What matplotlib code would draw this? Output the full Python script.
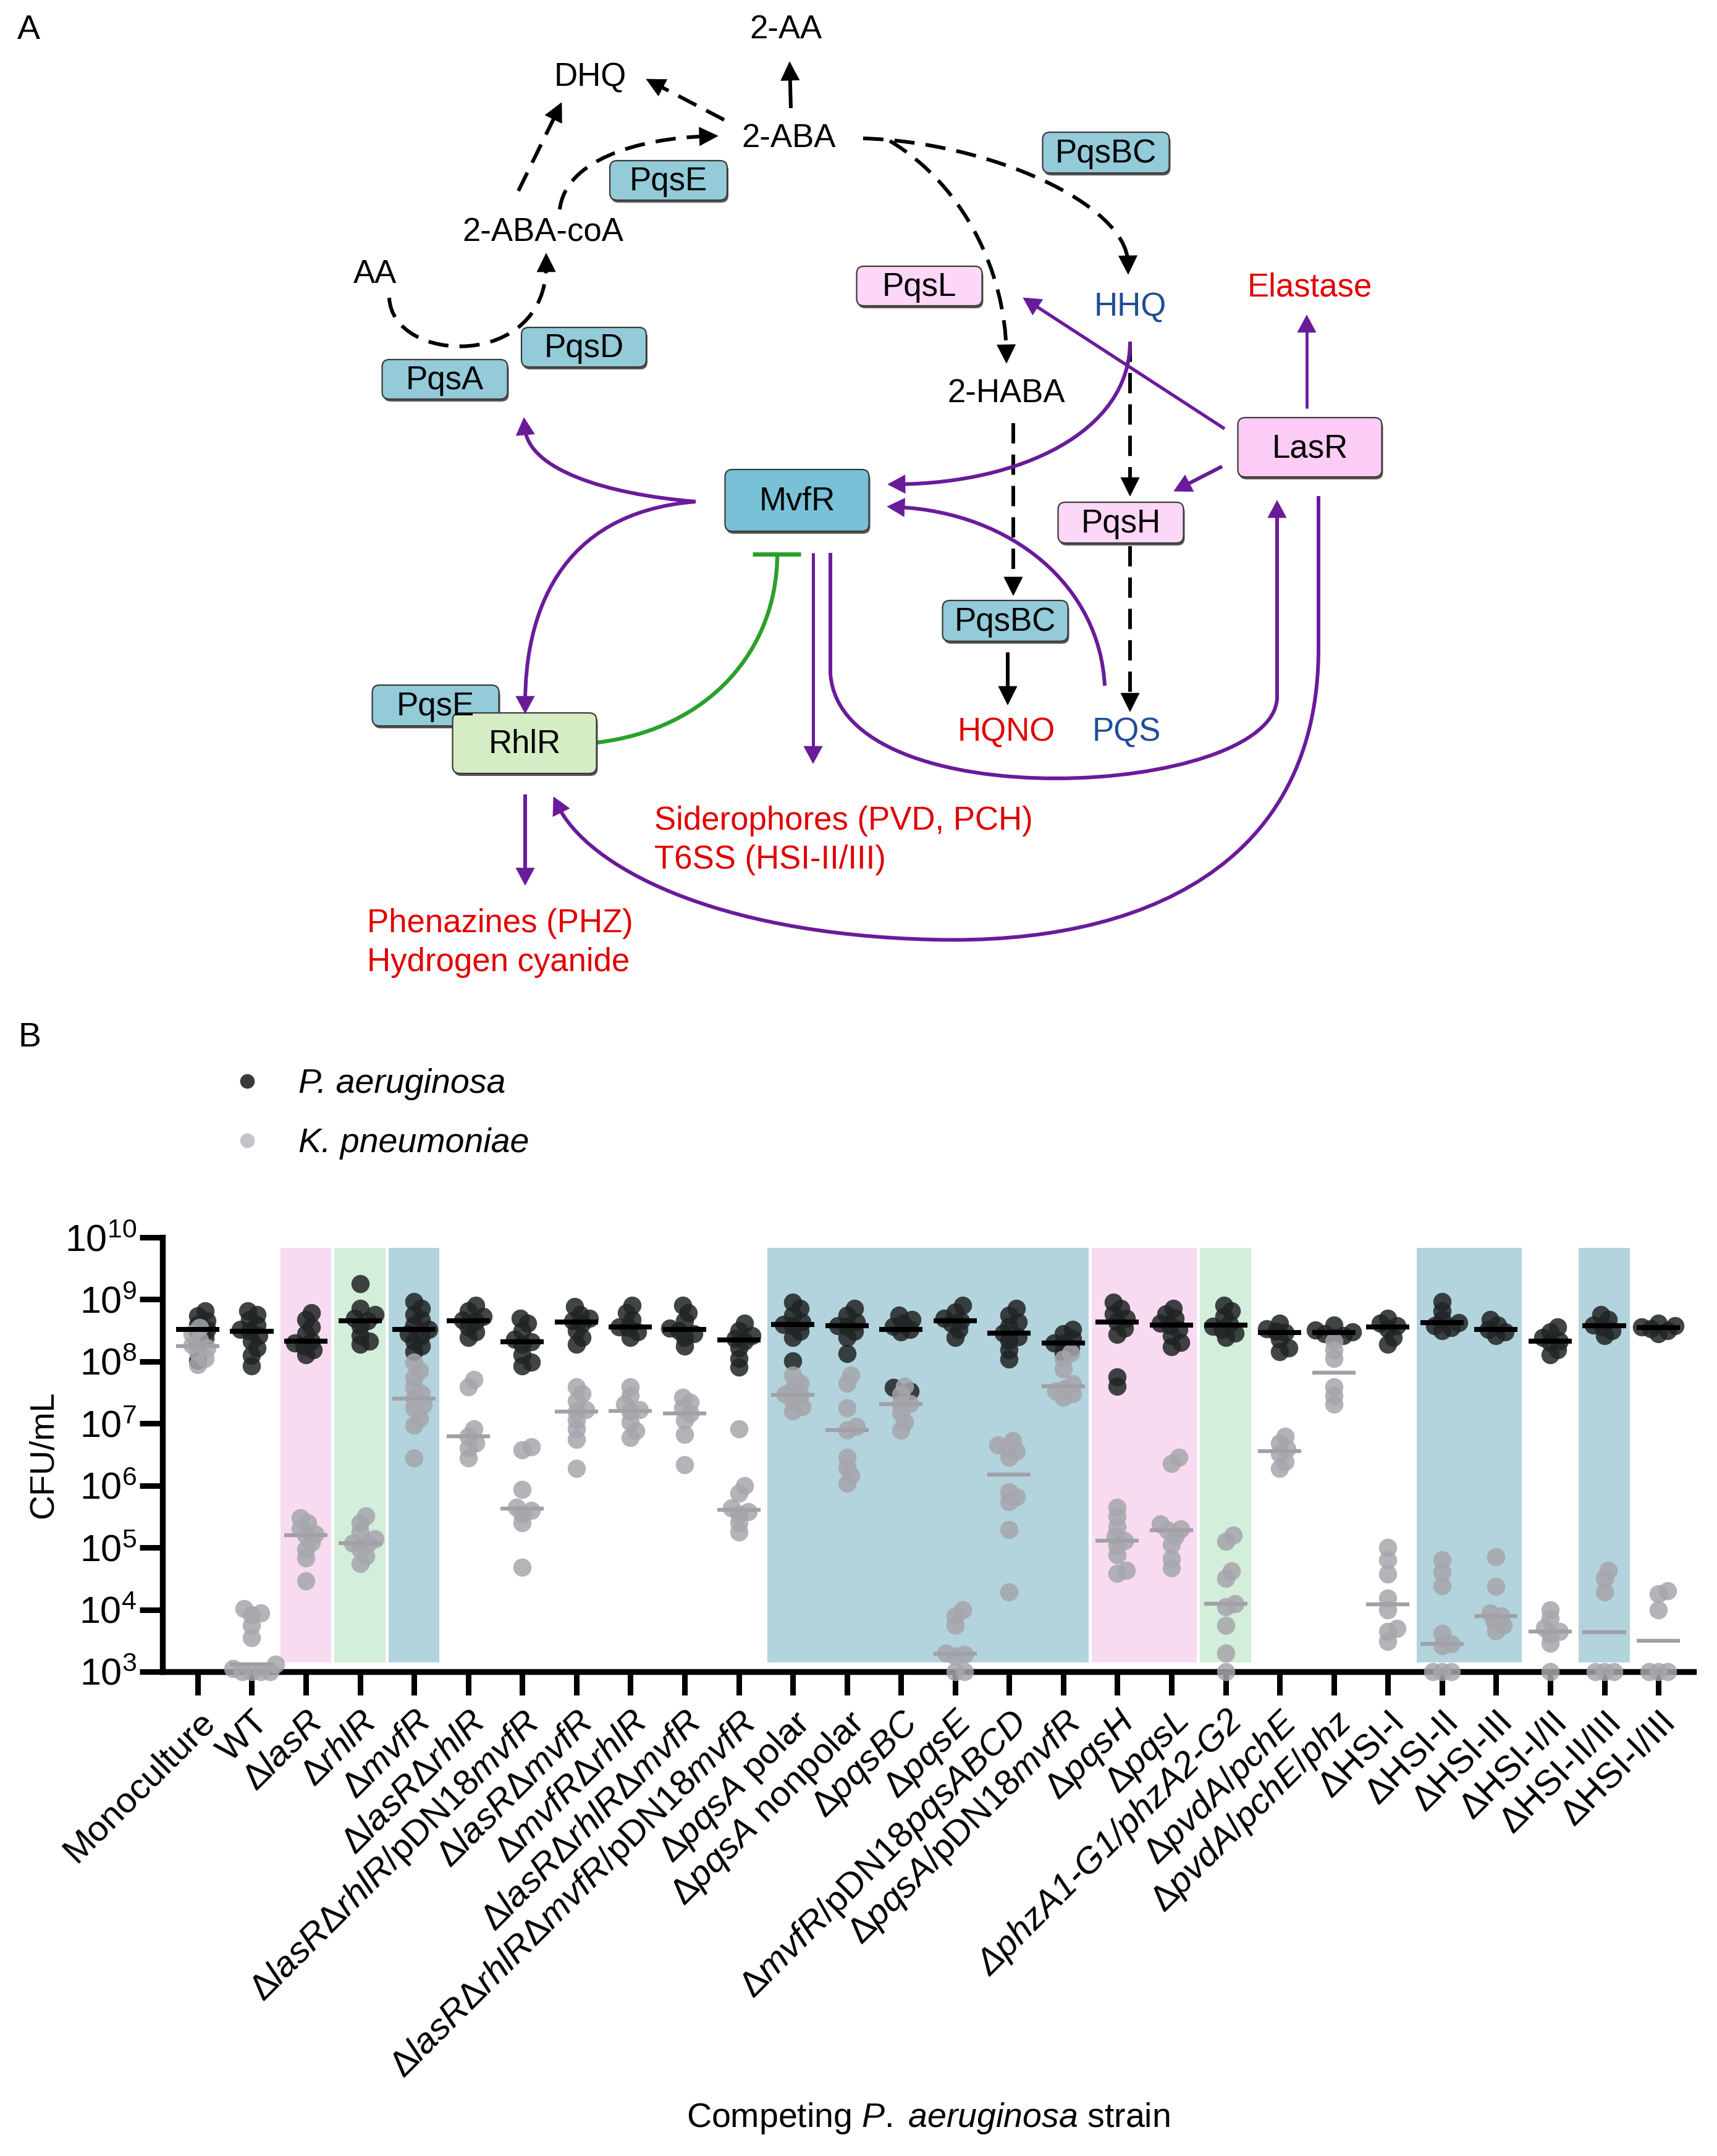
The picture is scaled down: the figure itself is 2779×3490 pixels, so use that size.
import numpy as np
import matplotlib.pyplot as plt
from matplotlib.patches import FancyBboxPatch, PathPatch, Polygon
from matplotlib.path import Path
from matplotlib.lines import Line2D

plt.rcParams['font.family'] = ['Liberation Sans', 'DejaVu Sans']
plt.rcParams['mathtext.fontset'] = 'custom'
plt.rcParams['mathtext.rm'] = 'Liberation Sans'
plt.rcParams['mathtext.it'] = 'Liberation Sans:italic'
plt.rcParams['mathtext.bf'] = 'Liberation Sans:bold'

# ---- panel B data (log10 CFU/mL) ----
strain_labels = [
    'Monoculture', 'WT',
    r'$\Delta\mathit{lasR}$', r'$\Delta\mathit{rhlR}$', r'$\Delta\mathit{mvfR}$',
    r'$\Delta\mathit{lasR}\Delta\mathit{rhlR}$',
    r'$\Delta\mathit{lasR}\Delta\mathit{rhlR}/\mathrm{pDN18}\mathit{mvfR}$',
    r'$\Delta\mathit{lasR}\Delta\mathit{mvfR}$',
    r'$\Delta\mathit{mvfR}\Delta\mathit{rhlR}$',
    r'$\Delta\mathit{lasR}\Delta\mathit{rhlR}\Delta\mathit{mvfR}$',
    r'$\Delta\mathit{lasR}\Delta\mathit{rhlR}\Delta\mathit{mvfR}/\mathrm{pDN18}\mathit{mvfR}$',
    r'$\Delta\mathit{pqsA}$ polar',
    r'$\Delta\mathit{pqsA}$ nonpolar',
    r'$\Delta\mathit{pqsBC}$', r'$\Delta\mathit{pqsE}$',
    r'$\Delta\mathit{mvfR}/\mathrm{pDN18}\mathit{pqsABCD}$',
    r'$\Delta\mathit{pqsA}/\mathrm{pDN18}\mathit{mvfR}$',
    r'$\Delta\mathit{pqsH}$', r'$\Delta\mathit{pqsL}$',
    'ΔphzA1-G1/phzA2-G2',
    r'$\Delta\mathit{pvdA/pchE}$', r'$\Delta\mathit{pvdA/pchE/phz}$',
    'ΔHSI-I', 'ΔHSI-II', 'ΔHSI-III', 'ΔHSI-I/II', 'ΔHSI-II/III', 'ΔHSI-I/III',
]
italic_plain_labels = [19]

pa_log10 = [
    [8.82, 8.74, 8.66, 8.6, 8.52, 8.46, 8.38, 8.3, 8.02],
    [8.82, 8.76, 8.68, 8.59, 8.52, 8.49, 8.42, 8.33, 8.22, 8.1, 7.93],
    [8.79, 8.68, 8.56, 8.45, 8.33, 8.3, 8.25, 8.19, 8.11],
    [9.25, 8.85, 8.76, 8.7, 8.66, 8.58, 8.42, 8.33, 8.28],
    [8.96, 8.85, 8.76, 8.68, 8.59, 8.52, 8.45, 8.42, 8.33, 8.25, 8.16],
    [8.9, 8.82, 8.73, 8.67, 8.65, 8.56, 8.48, 8.39],
    [8.7, 8.62, 8.5, 8.36, 8.32, 8.28, 8.11, 7.99, 7.93],
    [8.88, 8.76, 8.7, 8.66, 8.62, 8.5, 8.39, 8.28],
    [8.9, 8.79, 8.68, 8.56, 8.55, 8.48, 8.39],
    [8.9, 8.79, 8.66, 8.54, 8.5, 8.45, 8.39, 8.25],
    [8.62, 8.5, 8.42, 8.37, 8.33, 8.22, 8.05, 7.91],
    [8.95, 8.85, 8.75, 8.64, 8.6, 8.58, 8.49, 8.39, 8.01],
    [8.85, 8.75, 8.64, 8.58, 8.57, 8.49, 8.39, 8.13],
    [8.75, 8.68, 8.62, 8.57, 8.52, 8.48, 7.58, 7.52, 7.48],
    [8.9, 8.8, 8.7, 8.66, 8.62, 8.52, 8.39],
    [8.85, 8.75, 8.64, 8.57, 8.46, 8.4, 8.34, 8.19, 8.04],
    [8.52, 8.45, 8.37, 8.3, 8.3, 8.22, 8.14],
    [8.95, 8.85, 8.77, 8.7, 8.64, 8.54, 8.44, 7.75, 7.6],
    [8.85, 8.77, 8.7, 8.62, 8.59, 8.52, 8.42, 8.31, 8.24],
    [8.9, 8.82, 8.73, 8.61, 8.57, 8.52, 8.46, 8.39],
    [8.62, 8.53, 8.49, 8.47, 8.36, 8.22, 8.16],
    [8.59, 8.51, 8.48, 8.45, 8.42, 8.39],
    [8.7, 8.62, 8.58, 8.53, 8.39, 8.28],
    [8.96, 8.82, 8.68, 8.63, 8.58, 8.55, 8.5],
    [8.68, 8.59, 8.52, 8.48, 8.42],
    [8.56, 8.48, 8.39, 8.33, 8.31, 8.19, 8.11],
    [8.76, 8.68, 8.59, 8.56, 8.5, 8.42],
    [8.62, 8.58, 8.56, 8.53, 8.5, 8.45],
]

kp_log10 = [
    [8.55, 8.45, 8.35, 8.27, 8.22, 8.15, 8.05, 7.95],
    [4.02, 3.95, 3.92, 3.75, 3.55, 3.12, 3.05, 3.0, 3.0, 3.0, 3.0],
    [5.48, 5.4, 5.31, 5.22, 5.2, 5.08, 4.97, 4.83, 4.46],
    [5.51, 5.4, 5.25, 5.14, 5.07, 5.06, 4.97, 4.86, 4.74],
    [7.99, 7.85, 7.74, 7.59, 7.48, 7.4, 7.3, 7.25, 7.08, 6.97, 6.45],
    [7.71, 7.59, 6.91, 6.79, 6.68, 6.6, 6.45],
    [6.62, 6.57, 5.94, 5.65, 5.6, 5.54, 5.4, 4.68],
    [7.59, 7.48, 7.36, 7.22, 7.19, 7.05, 6.91, 6.74, 6.28],
    [7.59, 7.45, 7.31, 7.22, 7.19, 7.02, 6.88, 6.77],
    [7.42, 7.34, 7.25, 7.16, 7.05, 6.82, 6.34],
    [6.91, 6.0, 5.88, 5.64, 5.58, 5.54, 5.4, 5.25],
    [7.78, 7.65, 7.55, 7.47, 7.46, 7.37, 7.27, 7.2],
    [7.78, 7.65, 7.25, 6.95, 6.89, 6.46, 6.3, 6.17, 6.04],
    [7.6, 7.47, 7.32, 7.31, 7.17, 7.02, 6.89],
    [4.0, 3.9, 3.75, 3.3, 3.28, 3.25, 3.0, 3.0],
    [6.72, 6.65, 6.6, 6.55, 6.46, 5.9, 5.82, 5.74, 5.29, 4.28],
    [8.14, 8.04, 7.88, 7.64, 7.56, 7.52, 7.48, 7.42],
    [5.65, 5.5, 5.33, 5.18, 5.11, 5.03, 4.88, 4.63, 4.58],
    [6.46, 6.36, 5.38, 5.3, 5.28, 5.18, 5.05, 4.82, 4.67],
    [5.2, 5.1, 4.62, 4.5, 4.1, 4.05, 3.75, 3.3, 3.0],
    [6.79, 6.68, 6.59, 6.51, 6.39, 6.28],
    [8.33, 8.19, 8.05, 7.59, 7.45, 7.31],
    [5.0, 4.8, 4.57, 4.18, 4.0, 3.7, 3.65, 3.49],
    [4.8, 4.6, 4.38, 3.62, 3.45, 3.42, 3.0, 3.0, 3.0],
    [4.85, 4.37, 3.95, 3.9, 3.82, 3.75, 3.66],
    [4.0, 3.86, 3.71, 3.65, 3.6, 3.46, 3.0],
    [4.63, 4.5, 4.28, 3.0, 3.0, 3.0],
    [4.3, 4.25, 4.0, 3.0, 3.0, 3.0],
]

# highlighted strain ranges (first, last, colour key)
highlight_groups = [(2, 2, 'pink'), (3, 3, 'green'), (4, 4, 'blue'),
                    (11, 16, 'blue'), (17, 18, 'pink'), (19, 19, 'green'),
                    (23, 24, 'blue'), (26, 26, 'blue')]
band_colors = {'pink': '#f9dbf1', 'green': '#d3eedb', 'blue': '#b3d3dd'}

W, H = 2779, 3490
fig = plt.figure(figsize=(W / 100, H / 100), dpi=100)

# ---------------- panel A: pathway diagram (pixel coordinates) ----------------
axA = fig.add_axes([0, 0, 1, 1])
axA.set_xlim(0, W)
axA.set_ylim(H, 0)
axA.axis('off')

PURPLE = '#6a1b9a'
RED = '#e00000'
NAVY = '#1f4e96'
FS = 38


def box(cx, cy, w, h, fc, label, z=3, tz=None):
    sh = FancyBboxPatch((cx - w / 2 + 2, cy - h / 2 + 4), w, h,
                        boxstyle='round,pad=0,rounding_size=12',
                        fc='#555555', ec='none', zorder=z - 0.05)
    axA.add_patch(sh)
    p = FancyBboxPatch((cx - w / 2, cy - h / 2), w, h,
                       boxstyle='round,pad=0,rounding_size=12',
                       fc=fc, ec='#3a3a3a', lw=1.6, zorder=z)
    axA.add_patch(p)
    axA.text(cx, cy + 2, label, ha='center', va='center', fontsize=FS,
             zorder=(z + 0.1) if tz is None else tz)


def arrow(verts, codes=None, color='k', dashed=False, lw=4.3, head=True, hl=30, hw=15):
    verts = [np.array(v, float) for v in verts]
    if codes is None:
        codes = [Path.MOVETO] + [Path.LINETO] * (len(verts) - 1)
    tip = verts[-1]
    u = tip - verts[-2]
    u = u / np.hypot(*u)
    line_verts = list(verts)
    if head:
        line_verts[-1] = tip - u * hl * 0.6
    ls = (0, (5.5, 3.0)) if dashed else '-'
    pp = PathPatch(Path(line_verts, codes), fc='none', ec=color, lw=lw,
                   linestyle=ls, capstyle='butt', zorder=2)
    axA.add_patch(pp)
    if head:
        n = np.array([-u[1], u[0]])
        base = tip - u * hl
        axA.add_patch(Polygon([tip, base + n * hw, base - n * hw], closed=True,
                              fc=color, ec=color, lw=0.5, zorder=2.1))


C4 = [Path.MOVETO, Path.CURVE4, Path.CURVE4, Path.CURVE4]

# black metabolic arrows
arrow([(630, 482), (635, 590), (885, 600), (884, 410)], C4, dashed=True)
arrow([(839, 309), (909, 166)], dashed=True)
arrow([(906, 339), (915, 260), (1030, 224), (1162, 220)], C4, dashed=True)
arrow([(1172, 194), (1046, 128)], dashed=True)
arrow([(1280, 175), (1278, 100)])
arrow([(1397, 224), (1600, 230), (1824, 330), (1826, 444)], C4, dashed=True)
arrow([(1440, 228), (1560, 300), (1627, 440), (1629, 588)], C4, dashed=True)
arrow([(1640, 685), (1640, 964)], dashed=True)
arrow([(1829, 553), (1829, 803)], dashed=True)
arrow([(1829, 884), (1829, 1152)], dashed=True)
arrow([(1631, 1056), (1631, 1141)])

# purple regulatory arrows
arrow([(1126, 812), (980, 800), (855, 760), (848, 676)], C4, color=PURPLE, hl=28)
arrow([(1126, 812), (900, 830), (850, 1000), (850, 1155)], C4, color=PURPLE, hl=28)
arrow([(1829, 553), (1829, 700), (1650, 782), (1437, 784)], C4, color=PURPLE, hl=28)
arrow([(1982, 694), (1656, 482)], color=PURPLE, lw=3.8, hl=28)
arrow([(2115, 661), (2115, 510)], color=PURPLE, lw=3.4, hl=28)
arrow([(1978, 755), (1900, 795)], color=PURPLE, hl=28)
arrow([(1788, 1110), (1780, 950), (1640, 830), (1436, 820)], C4, color=PURPLE, hl=28)
arrow([(1316, 895), (1316, 1236)], color=PURPLE, lw=3.6, hl=28)
arrow([(1344, 895), (1344, 1090), (1360, 1330), (2060, 1290), (2067, 1130), (2067, 810)],
      [Path.MOVETO, Path.LINETO, Path.CURVE4, Path.CURVE4, Path.CURVE4, Path.LINETO],
      color=PURPLE, hl=28)
arrow([(2134, 803), (2134, 1050), (2134, 1400), (1850, 1530), (1510, 1521),
       (1150, 1512), (950, 1400), (896, 1290)],
      [Path.MOVETO, Path.LINETO, Path.CURVE4, Path.CURVE4, Path.CURVE4,
       Path.CURVE4, Path.CURVE4, Path.CURVE4], color=PURPLE, hl=28)
arrow([(850, 1286), (850, 1433)], color=PURPLE, hl=28)

# green inhibition
arrow([(966, 1202), (1150, 1180), (1258, 1050), (1258, 897)], C4, color='#2aa02a',
      lw=4.6, head=False)
axA.plot([1218, 1296], [897, 897], color='#2aa02a', lw=5, solid_capstyle='butt', zorder=2)

# boxes
box(1082, 292, 190, 64, '#93cbd9', 'PqsE')
box(945, 562, 202, 64, '#93cbd9', 'PqsD')
box(720, 614, 203, 64, '#93cbd9', 'PqsA')
box(1790, 247, 205, 66, '#93cbd9', 'PqsBC')
box(1488, 463, 203, 64, '#fcd7f7', 'PqsL')
box(2120, 724, 233, 96, '#fccbf6', 'LasR')
box(1290, 810, 233, 100, '#78c1d6', 'MvfR')
box(1814, 846, 203, 66, '#fcd7f7', 'PqsH')
box(1627, 1005, 203, 66, '#93cbd9', 'PqsBC')
box(705, 1142, 205, 66, '#93cbd9', 'PqsE', tz=5)
box(849, 1203, 233, 98, '#d5edc4', 'RhlR', z=4)

# plain labels
for s, x, y, c in [('2-AA', 1272, 48, 'k'), ('DHQ', 955, 125, 'k'),
                   ('2-ABA', 1277, 224, 'k'), ('2-ABA-coA', 879, 376, 'k'),
                   ('AA', 607, 444, 'k'), ('HHQ', 1829, 497, NAVY),
                   ('Elastase', 2120, 465, RED), ('2-HABA', 1629, 637, 'k'),
                   ('HQNO', 1629, 1185, RED), ('PQS', 1823, 1185, NAVY)]:
    axA.text(x, y, s, ha='center', va='center', fontsize=FS, color=c, zorder=5)
axA.text(1059, 1329, 'Siderophores (PVD, PCH)', ha='left', va='center', fontsize=FS, color=RED)
axA.text(1059, 1392, 'T6SS (HSI-II/III)', ha='left', va='center', fontsize=FS, color=RED)
axA.text(594, 1495, 'Phenazines (PHZ)', ha='left', va='center', fontsize=FS, color=RED)
axA.text(594, 1558, 'Hydrogen cyanide', ha='left', va='center', fontsize=FS, color=RED)

axA.text(28, 49, 'A', ha='left', va='center', fontsize=40)
axA.text(30, 1680, 'B', ha='left', va='center', fontsize=40)

# ---------------- panel B: strip chart ----------------
X0, X1, Y0, Y1 = 263, 2741, 2003, 2706
axB = fig.add_axes([X0 / W, 1 - Y1 / H, (X1 - X0) / W, (Y1 - Y0) / H])
axB.set_yscale('log')
axB.set_ylim(1e3, 1e10)
axB.set_xlim(-0.65, 27.65)

XPX = (X1 - X0) / 28.3
YPX = (Y1 - Y0) / 7.0


def swarm(vals, diam=14.0, step=3.0):
    vals = np.asarray(vals, float)
    placed = []
    offs = np.zeros(len(vals))
    for i in np.argsort(vals):
        y = vals[i] * YPX
        k = 0
        while True:
            cand = 0.0 if k == 0 else ((k + 1) // 2) * step * (1 if k % 2 else -1)
            if all((cand - px) ** 2 + (y - py) ** 2 >= diam ** 2 for px, py in placed):
                break
            k += 1
        placed.append((cand, y))
        offs[i] = cand
    return offs / XPX


for first, last, key in highlight_groups:
    axB.axvspan(first - 0.47, last + 0.47, ymin=0.021, ymax=0.976,
                color=band_colors[key], lw=0, zorder=0)

for i in range(len(strain_labels)):
    pv = np.array(pa_log10[i])
    kv = np.array(kp_log10[i])
    axB.scatter(i + swarm(pv), 10 ** pv, s=450, c='#202424', alpha=0.85,
                linewidths=0, zorder=3, clip_on=False)
    axB.scatter(i + swarm(kv), 10 ** kv, s=450, c='#a6a6ac', alpha=0.85,
                linewidths=0, zorder=4, clip_on=False)
    axB.hlines(10 ** np.median(kv), i - 0.4, i + 0.4, color='#a0a0a6', lw=4.5, zorder=5)
    axB.hlines(10 ** np.median(pv), i - 0.4, i + 0.4, color='k', lw=5.8, zorder=6)

for side in ['top', 'right']:
    axB.spines[side].set_visible(False)
for side in ['left', 'bottom']:
    axB.spines[side].set_linewidth(6.8)
axB.set_yticks([10.0 ** k for k in range(3, 11)])
axB.yaxis.set_minor_locator(plt.NullLocator())
axB.tick_params(axis='y', length=27, width=6.5, pad=3, labelsize=44)
axB.tick_params(axis='x', length=27, width=6.5, pad=12, labelsize=42)
axB.set_xticks(np.arange(len(strain_labels)))
axB.set_xticklabels(strain_labels, rotation=45, ha='right', va='top',
                    rotation_mode='anchor')
for k in italic_plain_labels:
    axB.get_xticklabels()[k].set_fontstyle('italic')

axB.set_ylabel('CFU/mL', fontsize=40)
axB.yaxis.set_label_coords(-0.067, 0.5)
axB.set_xlabel(r'Competing $\mathit{P.}\;\mathit{aeruginosa}$ strain', fontsize=40)
axB.xaxis.set_label_coords(0.5, -0.989)

handles = [Line2D([], [], marker='o', ls='', color='#3a3a3a', ms=16),
           Line2D([], [], marker='o', ls='', color='#c4c4c8', ms=16)]
axB.legend(handles, ['P. aeruginosa', 'K. pneumoniae'], loc='upper left',
           bbox_to_anchor=(372 / W, 1 - 1729 / H), bbox_transform=fig.transFigure,
           frameon=False, handlelength=1.0, handletextpad=1.0, labelspacing=0.8,
           borderpad=0, borderaxespad=0, prop={'style': 'italic', 'size': 40})

fig.savefig('out.png', dpi=100)
